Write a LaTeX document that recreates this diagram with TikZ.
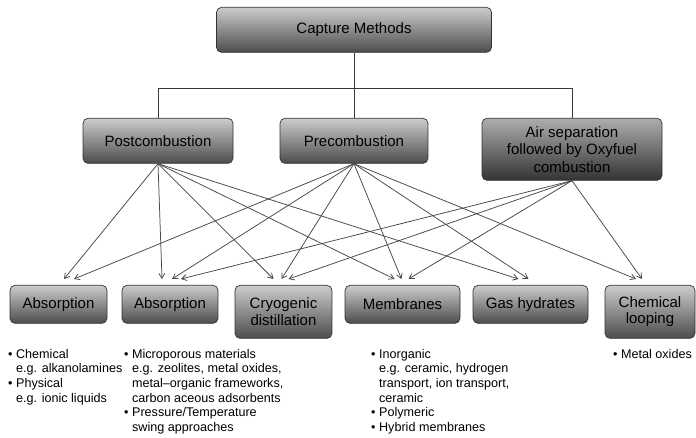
\documentclass[tikz,border=0pt]{standalone}
\usepackage{fontspec}
\setmainfont{Liberation Sans}
\usetikzlibrary{arrows.meta}
\newcommand{\subline}{\hphantom{\textbullet\ }}

\begin{document}
\begin{tikzpicture}[x=1pt, y=-1pt,
  box/.style={draw=black!80, line width=0.7pt, rounded corners=5pt, top color=black!20, bottom color=black!70,
    align=center, inner sep=0pt, anchor=north, font=\fontsize{15}{16.5}\selectfont},
  dark/.style={top color=black!32, bottom color=black!80, font=\fontsize{15}{17.5}\selectfont},
  note/.style={anchor=north west, inner sep=0pt, align=left, font=\fontsize{12.6}{14.6}\selectfont},
  conn/.style={draw=black!78, line width=0.9pt},
  arr/.style={-{Straight Barb[length=5pt,width=6pt]}, draw=black!72, line width=0.75pt}]
\fill[white] (0,0) rectangle (696,438);
\useasboundingbox (0,0) rectangle (696,438);
% top levels
\node[box, minimum width=275pt, minimum height=45pt] (cap) at (354,7) {Capture Methods};
\node[box, minimum width=150pt, minimum height=45pt] (post) at (158,118) {Postcombustion};
\node[box, minimum width=148pt, minimum height=45pt] (pre) at (354,118) {Precombustion};
\node[box, dark, minimum width=180pt, minimum height=62pt] (air) at (572,118) {Air separation\\followed by Oxyfuel\\combustion};
\draw[conn] (cap.south) -- (pre.north);
\draw[conn] (post.north) -- ++(0,-30) -| (air.north);
% technologies
\node[box, minimum width=97pt, minimum height=38pt] (abs1) at (58.5,285) {Absorption};
\node[box, minimum width=96pt, minimum height=38pt] (abs2) at (170,285) {Absorption};
\node[box, minimum width=97pt, minimum height=53pt] (cryo) at (283.5,285) {Cryogenic\\distillation};
\node[box, minimum width=115pt, minimum height=38pt] (mem) at (402.5,285) {Membranes};
\node[box, minimum width=115pt, minimum height=38pt] (gas) at (530.5,285) {Gas hydrates};
\node[box, minimum width=90pt, minimum height=53pt] (chem) at (650,285) {Chemical\\looping};
\foreach \s/\t/\d in {post/abs1/5.5, pre/abs1/15.5, post/abs2/-8, pre/abs2/2, air/abs2/11,
    post/cryo/-10, pre/cryo/-2, air/cryo/5, post/mem/-8, pre/mem/-1, air/mem/6,
    post/gas/-12, pre/gas/-2, pre/chem/-14, air/chem/-8}
  \draw[arr] (\s.south) -- ([xshift=\d pt, yshift=6pt]\t.north);
% examples
\node[note] (n1) at (8,349) {\textbullet\ Chemical\\\subline e.g. alkanolamines\\\textbullet\ Physical\\\subline e.g. ionic liquids};
\node[note] (n2) at (124,349) {\textbullet\ Microporous materials\\\subline e.g. zeolites, metal oxides,\\\subline metal--organic frameworks,\\\subline carbon aceous adsorbents\\\textbullet\ Pressure/Temperature\\\subline swing approaches};
\node[note] (n3) at (371,349) {\textbullet\ Inorganic\\\subline e.g. ceramic, hydrogen\\\subline transport, ion transport,\\\subline ceramic\\\textbullet\ Polymeric\\\textbullet\ Hybrid membranes};
\node[note] (n4) at (613,349) {\textbullet\ Metal oxides};
\end{tikzpicture}
\end{document}
